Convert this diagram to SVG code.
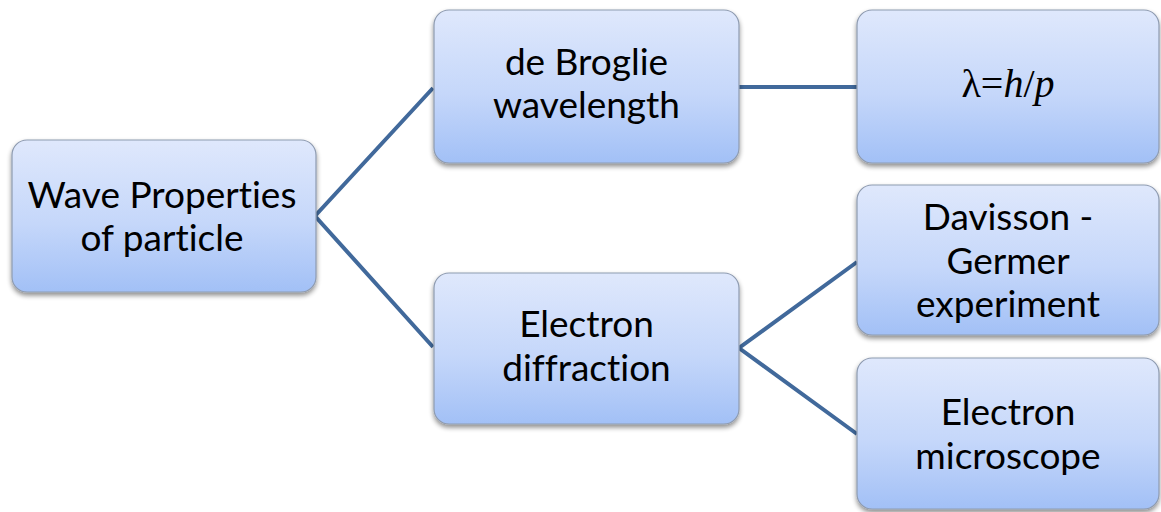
<svg xmlns="http://www.w3.org/2000/svg" width="1161" height="512" viewBox="0 0 1161 512">
<defs>
<linearGradient id="g" x1="0" y1="0" x2="0" y2="1">
<stop offset="0" stop-color="#dfe8fc"/>
<stop offset="0.55" stop-color="#c5d7fa"/>
<stop offset="1" stop-color="#a2c0f6"/>
</linearGradient>
<filter id="sh" x="-10%" y="-10%" width="120%" height="130%">
<feGaussianBlur in="SourceAlpha" stdDeviation="2.5"/>
<feOffset dx="0" dy="3" result="b"/>
<feComponentTransfer><feFuncA type="linear" slope="0.45"/></feComponentTransfer>
<feMerge><feMergeNode/><feMergeNode in="SourceGraphic"/></feMerge>
</filter>
</defs>
<style>
.box{fill:url(#g);stroke:#8e9bb0;stroke-width:1.2;filter:url(#sh)}
.t{font-family:Lato,"Liberation Sans",Arial,sans-serif;font-size:37px;fill:#000;text-anchor:middle;font-variant-ligatures:none;font-feature-settings:"liga" 0,"dlig" 0}
.m{font-family:"Liberation Serif","Times New Roman",serif;font-size:40px;fill:#000;text-anchor:middle}
.c{stroke:#41699b;stroke-width:4;fill:none;stroke-linejoin:miter}
</style>
<g id="connectors">
<polyline class="c" points="433,88 315,216 433,347"/>
<line class="c" x1="739" y1="87" x2="857" y2="87"/>
<polyline class="c" points="857,262 739,348 857,434"/>
</g>
<g id="wave">
<rect class="box" x="12" y="140" width="304" height="152" rx="15"/>
<text class="t" x="162" y="208">Wave Properties</text>
<text class="t" x="162" y="251">of particle</text>
</g>
<g id="debroglie">
<rect class="box" x="434" y="10" width="305" height="153" rx="15"/>
<text class="t" x="586.5" y="75">de Broglie</text>
<text class="t" x="586.5" y="118">wavelength</text>
</g>
<g id="formula">
<rect class="box" x="857" y="10" width="302" height="153" rx="15"/>
<text class="m" x="1008" y="97">λ=<tspan font-style="italic">h</tspan>/<tspan font-style="italic">p</tspan></text>
</g>
<g id="diffraction">
<rect class="box" x="434" y="273" width="305" height="151" rx="15"/>
<text class="t" x="586.5" y="337">Electron</text>
<text class="t" x="586.5" y="381">diffraction</text>
</g>
<g id="davisson">
<rect class="box" x="857" y="185" width="302" height="150" rx="15"/>
<text class="t" x="1008" y="230">Davisson -</text>
<text class="t" x="1008" y="274">Germer</text>
<text class="t" x="1008" y="317">experiment</text>
</g>
<g id="microscope">
<rect class="box" x="857" y="358" width="302" height="151" rx="15"/>
<text class="t" x="1008" y="425">Electron</text>
<text class="t" x="1008" y="469">microscope</text>
</g>
</svg>
